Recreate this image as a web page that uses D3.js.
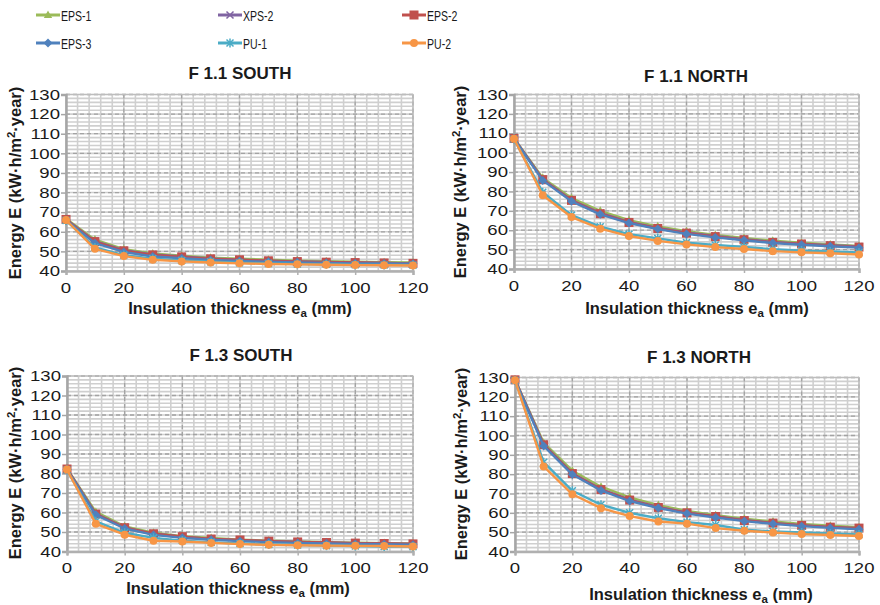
<!DOCTYPE html>
<html><head><meta charset="utf-8">
<script src="https://cdn.jsdelivr.net/npm/d3@7"></script>
<style>
body{margin:0;background:#fff}
svg{display:block}
text{font-family:"Liberation Sans",Arial,sans-serif;fill:#1a1a1a}
</style>
</head><body>
<svg id="chart" width="880" height="605"></svg>
<script>
// ---------- data ----------
const thickness = [0,10,20,30,40,50,60,70,80,90,100,110,120];
const seriesNames = ["EPS-1","XPS-2","EPS-2","EPS-3","PU-1","PU-2"];
const panelTitles = ["F 1.1 SOUTH","F 1.1 NORTH","F 1.3 SOUTH","F 1.3 NORTH"];
const yTickValues = [40,50,60,70,80,90,100,110,120,130];
const xTickValues = [0,20,40,60,80,100,120];

// rows: EPS-1, XPS-2, EPS-2, EPS-3, PU-1, PU-2
const f11South = [
  [66.6,56.0,51.1,48.9,47.8,46.8,46.3,45.8,45.3,45.0,44.7,44.5,44.3],
  [66.3,55.2,50.6,48.4,47.4,46.4,45.8,45.3,44.9,44.6,44.3,44.1,43.9],
  [66.3,55.0,50.3,48.2,47.2,46.2,45.7,45.2,44.8,44.5,44.3,44.1,43.9],
  [66.0,54.2,49.7,47.4,46.5,45.6,45.1,44.7,44.4,44.1,43.9,43.8,43.7],
  [65.8,52.0,48.1,46.3,45.4,44.7,44.2,43.9,43.6,43.4,43.2,43.1,43.0],
  [66.0,51.3,47.6,45.7,44.9,44.3,43.9,43.6,43.4,43.2,43.0,42.9,42.8]
];
const f11North = [
  [107.5,87.0,76.6,70.0,65.2,62.0,59.5,57.6,56.0,54.6,53.6,52.7,51.9],
  [107.3,86.3,75.6,68.9,64.3,61.2,58.8,57.0,55.4,54.0,53.1,52.3,51.6],
  [107.3,86.1,75.4,68.5,64.0,60.9,58.5,56.7,55.1,53.7,52.9,52.0,51.3],
  [107.2,85.7,74.9,68.2,63.7,60.6,58.1,56.3,54.8,53.4,52.5,51.7,51.0],
  [107.0,79.6,67.8,61.8,58.0,55.8,53.6,52.4,51.4,50.2,49.5,49.0,48.5],
  [107.2,78.0,66.8,60.8,57.0,54.5,52.7,51.3,50.3,49.2,48.6,48.1,47.5]
];
const f13South = [
  [82.5,60.3,52.9,49.6,47.9,46.9,46.1,45.6,45.1,44.8,44.5,44.3,44.1],
  [82.3,59.4,52.4,49.2,47.6,46.5,45.8,45.3,44.9,44.6,44.3,44.1,43.9],
  [82.3,59.2,52.2,49.1,47.6,46.4,45.9,45.3,44.9,44.6,44.3,44.1,43.9],
  [82.0,58.8,51.8,48.5,47.0,46.0,45.3,44.8,44.4,44.1,43.9,43.7,43.5],
  [81.8,55.5,49.6,47.0,45.6,44.7,44.1,43.6,43.3,43.0,42.8,42.6,42.5],
  [82.0,54.2,48.6,45.5,45.1,44.4,43.8,43.4,43.2,43.0,42.9,42.8,42.6]
];
const f13North = [
  [129.0,96.3,81.8,73.5,68.0,64.0,61.0,58.8,57.0,55.5,54.3,53.3,52.6],
  [128.8,95.4,80.5,72.3,66.8,63.0,60.2,58.2,56.3,54.8,53.6,52.7,52.0],
  [128.8,95.2,80.3,72.0,66.6,62.8,60.0,58.1,56.0,54.7,53.5,52.6,52.1],
  [128.6,94.6,79.8,71.6,66.1,62.5,59.6,57.6,55.7,54.3,53.1,52.2,51.5],
  [128.5,86.2,71.4,64.2,60.0,57.2,55.2,53.7,51.3,50.4,49.8,49.3,48.8],
  [128.6,84.0,69.6,62.4,58.3,55.5,54.4,52.1,50.7,49.8,49.0,48.5,48.0]
];
const panelData = [f11South, f11North, f13South, f13North];

// ---------- styles / layout ----------
const colors = ["#9BBB59","#8064A2","#C0504D","#4F81BD","#4BACC6","#F79646"];
const markerKinds = ["triangle","x","square","diamond","star","circle"];
const layouts = [
  {x0:66, x1:413, y0:94.5, y1:271, tx:240, ty:79, lx:240, ly:314, yx:21, yc:183},
  {x0:514,x1:859, y0:94.5, y1:269, tx:696, ty:82, lx:697, ly:314, yx:466, yc:182},
  {x0:67, x1:413, y0:376, y1:551.5, tx:241, ty:360.5, lx:238, ly:594, yx:21, yc:463},
  {x0:515,x1:859, y0:377.5, y1:551.5, tx:699, ty:363, lx:701, ly:600, yx:467, yc:464}
];

const svg = d3.select("#chart");

function drawMarker(g, kind, color, cx, cy){
  const t = `translate(${cx},${cy})`;
  if(kind==="triangle"){
    g.append("path").attr("d","M0,-4.5L4.2,3L-4.2,3Z").attr("transform",t).attr("fill",color);
  } else if(kind==="square"){
    g.append("rect").attr("x",cx-4.5).attr("y",cy-4.5).attr("width",9).attr("height",9).attr("fill",color);
  } else if(kind==="diamond"){
    g.append("path").attr("d","M0,-4.5L4.5,0L0,4.5L-4.5,0Z").attr("transform",t).attr("fill",color);
  } else if(kind==="circle"){
    g.append("circle").attr("cx",cx).attr("cy",cy).attr("r",4).attr("fill",color);
  } else if(kind==="x"){
    g.append("path").attr("d","M-3.5,-3.5L3.5,3.5M-3.5,3.5L3.5,-3.5").attr("transform",t)
      .attr("stroke",color).attr("stroke-width",1.5).attr("fill","none");
  } else if(kind==="star"){
    g.append("path").attr("d","M-3.5,-3.5L3.5,3.5M-3.5,3.5L3.5,-3.5M0,-4.5L0,4.5").attr("transform",t)
      .attr("stroke",color).attr("stroke-width",1.5).attr("fill","none");
  }
}

panelData.forEach((data, pi) => {
  const L = layouts[pi];
  const x = d3.scaleLinear().domain([0,120]).range([L.x0, L.x1]);
  const y = d3.scaleLinear().domain([40,130]).range([L.y1, L.y0]);
  const g = svg.append("g");

  // minor grid
  g.append("g").selectAll("line").data(d3.range(0,121,4)).join("line")
    .attr("x1",d=>x(d)).attr("x2",d=>x(d)).attr("y1",L.y0).attr("y2",L.y1)
    .attr("stroke","#cfcfcf").attr("stroke-width",1.6);
  g.append("g").selectAll("line").data(d3.range(40,131,2)).join("line")
    .attr("y1",d=>y(d)).attr("y2",d=>y(d)).attr("x1",L.x0).attr("x2",L.x1)
    .attr("stroke","#cfcfcf").attr("stroke-width",1.6);
  // major grid (dashed)
  g.append("g").selectAll("line").data(xTickValues.filter(v=>v>0)).join("line")
    .attr("x1",d=>x(d)).attr("x2",d=>x(d)).attr("y1",L.y0).attr("y2",L.y1)
    .attr("stroke","#a3a3a3").attr("stroke-width",1.3).attr("stroke-dasharray","4,3");
  g.append("g").selectAll("line").data(yTickValues.filter(v=>v>40)).join("line")
    .attr("y1",d=>y(d)).attr("y2",d=>y(d)).attr("x1",L.x0).attr("x2",L.x1)
    .attr("stroke","#a3a3a3").attr("stroke-width",1.3).attr("stroke-dasharray","4,3");
  // plot border
  g.append("rect").attr("x",L.x0).attr("y",L.y0).attr("width",L.x1-L.x0).attr("height",L.y1-L.y0)
    .attr("fill","none").attr("stroke","#bdbdbd").attr("stroke-width",1.2);

  // axes
  const ya = d3.axisLeft(y).tickValues(yTickValues).tickSize(5).tickFormat("");
  const yg = g.append("g").attr("transform",`translate(${L.x0},0)`).call(ya);
  yg.select(".domain").attr("stroke","#a6a6a6").attr("stroke-width",2.5);
  yg.selectAll(".tick line").attr("stroke","#a6a6a6").attr("stroke-width",1.5);
  const xa = d3.axisBottom(x).tickValues(xTickValues).tickSize(4).tickFormat("");
  const xg = g.append("g").attr("transform",`translate(0,${L.y1})`).call(xa);
  xg.select(".domain").attr("stroke","#b0b0b0").attr("stroke-width",2.5);
  xg.selectAll(".tick line").attr("stroke","#b0b0b0").attr("stroke-width",1.5);

  // tick labels (horizontally widened as in the reference)
  g.append("g").selectAll("text").data(yTickValues).join("text")
    .attr("transform",d=>`translate(${L.x0-6},${y(d)+5.2}) scale(1.28,1)`)
    .attr("text-anchor","end").attr("font-size",14.5).text(d=>d);
  g.append("g").selectAll("text").data(xTickValues).join("text")
    .attr("transform",d=>`translate(${x(d)},${L.y1+21.5}) scale(1.28,1)`)
    .attr("text-anchor","middle").attr("font-size",14.5).text(d=>d);

  // series
  data.forEach((vals, si) => {
    const pts = thickness.map((t,i)=>[x(t), y(vals[i])]);
    const sg = g.append("g");
    sg.append("path").attr("d", d3.line()(pts)).attr("fill","none")
      .attr("stroke",colors[si]).attr("stroke-width",2.4).attr("stroke-linejoin","round");
    pts.forEach(p => drawMarker(sg, markerKinds[si], colors[si], p[0], p[1]));
  });

  // title
  g.append("text").attr("x",L.tx).attr("y",L.ty).attr("text-anchor","middle")
    .attr("font-size",17).attr("font-weight","bold").text(panelTitles[pi]);
  // x label
  const xl = g.append("text").attr("x",L.lx).attr("y",L.ly).attr("text-anchor","middle")
    .attr("font-size",16.5).attr("font-weight","bold");
  xl.append("tspan").text("Insulation thickness e");
  xl.append("tspan").attr("font-size",11.5).attr("dy",3).text("a");
  xl.append("tspan").attr("dy",-3).text(" (mm)");
  // y label
  const yl = g.append("text").attr("transform",`translate(${L.yx},${L.yc}) rotate(-90)`)
    .attr("text-anchor","middle").attr("font-size",16.5).attr("font-weight","bold");
  yl.append("tspan").text("Energy E (kW·h/m");
  yl.append("tspan").attr("font-size",11.5).attr("dy",-6).text("2");
  yl.append("tspan").attr("dy",6).text("·year)");
});

// legend
const legPos = [[36,15],[218,15],[402,15],[36,43],[218,43],[402,43]];
const lg = svg.append("g");
seriesNames.forEach((name,i)=>{
  const [lx,ly] = legPos[i];
  lg.append("line").attr("x1",lx).attr("x2",lx+24).attr("y1",ly).attr("y2",ly)
    .attr("stroke",colors[i]).attr("stroke-width",3);
  drawMarker(lg, markerKinds[i], colors[i], lx+12, ly);
  lg.append("text").attr("transform",`translate(${lx+25},${ly+5.5}) scale(0.68,1)`)
    .attr("font-size",15.5).text(name);
});
</script>
</body></html>
